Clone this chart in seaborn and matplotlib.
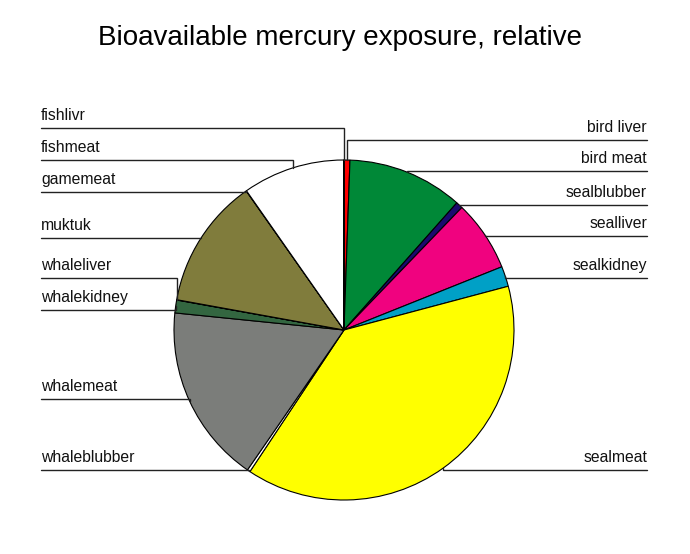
import numpy as np
import matplotlib
matplotlib.use('Agg')
import matplotlib.pyplot as plt
import seaborn as sns

# Fatias no sentido horário a partir do topo (valores relativos, %)
categorias = ['bird liver', 'bird meat', 'sealblubber', 'sealliver', 'sealkidney',
              'sealmeat', 'whaleblubber', 'whalemeat', 'whalekidney', 'whaleliver',
              'muktuk', 'gamemeat', 'fishmeat', 'fishlivr']
valores = [0.56, 11.0, 0.64, 6.75, 1.92,
           38.5, 0.28, 17.0, 1.22, 0.03,
           12.4, 0.03, 9.7, 0.03]
cores = ['#FF0000', '#008837', '#1A0A6E', '#F0027F', '#00A0C6',
         '#FFFF00', '#FFFFFF', '#7B7D7A', '#336640', '#4D4D4D',
         '#807C3C', '#C0C0C0', '#FFFFFF', '#800000']

# Lado e altura (px a partir do topo) de cada rótulo
lado = ['R', 'R', 'R', 'R', 'R', 'R', 'L', 'L', 'L', 'L', 'L', 'L', 'L', 'L']
y_rotulo = [140, 171, 205, 236, 278, 470, 470, 399, 310, 278, 238, 192, 160, 128]

W, H = 690, 554
CX, CY, R = 344, 224, 170   # centro em coordenadas com y para cima
X_ESQ, X_DIR = 41, 647

sns.set_theme(style='white')
plt.rcParams['font.family'] = ['Liberation Sans', 'DejaVu Sans']

fig = plt.figure(figsize=(W / 100, H / 100), dpi=100)
ax = fig.add_axes([0, 0, 1, 1])

fatias, _ = ax.pie(valores, colors=sns.color_palette(cores), startangle=90,
                   counterclock=False, center=(CX, CY), radius=R,
                   wedgeprops=dict(edgecolor='black', linewidth=0.8))

ax.set_xlim(0, W)
ax.set_ylim(0, H)
ax.set_aspect('equal')
ax.axis('off')

# Linhas de chamada: do rótulo até o ponto médio do arco de cada fatia
for fatia, nome, ld, yp in zip(fatias, categorias, lado, y_rotulo):
    ang = np.deg2rad((fatia.theta1 + fatia.theta2) / 2)
    px = CX + R * np.cos(ang)
    py = CY + R * np.sin(ang)
    yl = H - yp
    xb = X_ESQ if ld == 'L' else X_DIR
    ax.plot([xb, px, px], [yl, yl, py], color='#222222', linewidth=1,
            solid_joinstyle='miter')
    if ld == 'L':
        ax.text(X_ESQ, yl + 5, nome, ha='left', va='bottom', fontsize=11.3, color='#111111')
    else:
        ax.text(X_DIR, yl + 5, nome, ha='right', va='bottom', fontsize=11.3, color='#111111')

ax.text(340, H - 38, 'Bioavailable mercury exposure, relative', ha='center', va='center',
        fontsize=20, color='black')

fig.savefig('out.png', dpi=100, facecolor='white')
